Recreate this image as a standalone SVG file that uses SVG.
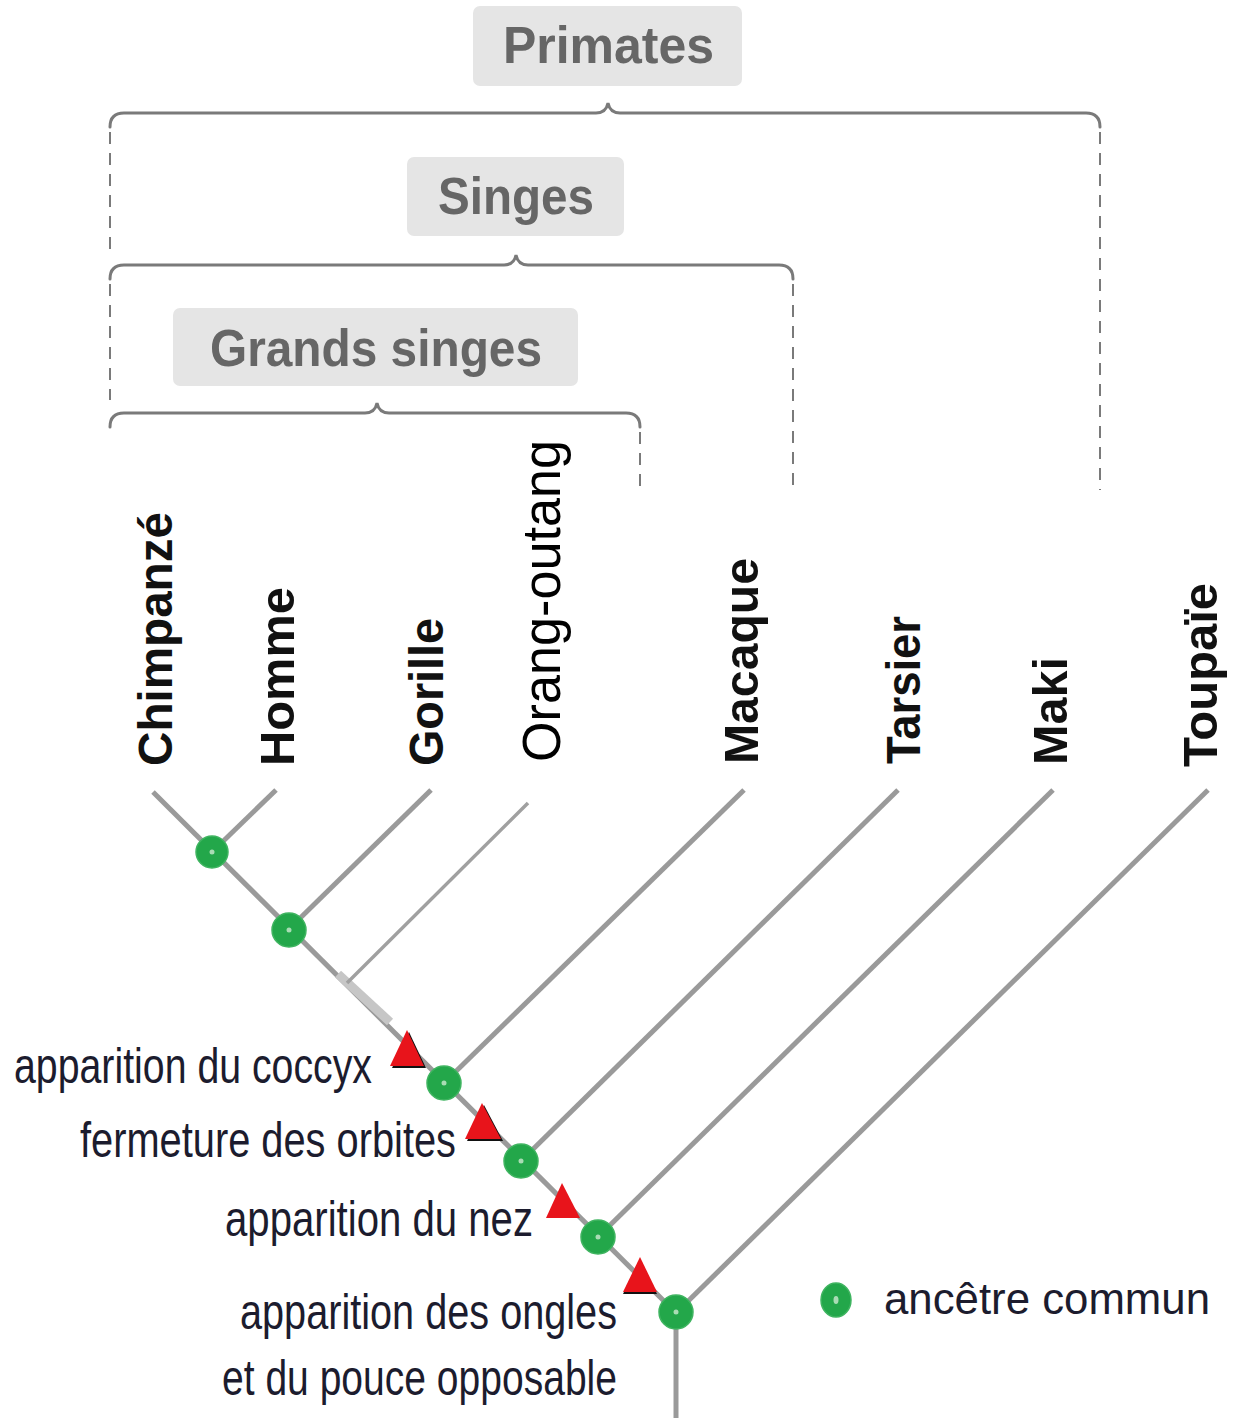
<svg xmlns="http://www.w3.org/2000/svg" width="1236" height="1418" viewBox="0 0 1236 1418">
<style>
.box{fill:#e5e5e5}
.grp{font-family:"Liberation Sans",Arial,sans-serif;font-weight:bold;font-size:52px;fill:#666}
.brace{fill:none;stroke:#7a7a7a;stroke-width:3;stroke-linecap:round}
.dash{fill:none;stroke:#7a7a7a;stroke-width:2;stroke-dasharray:12 9}
.sp{font-family:"Liberation Sans",Arial,sans-serif;font-weight:bold;font-size:48px;fill:#111}
.spr{font-family:"Liberation Sans",Arial,sans-serif;font-size:54px;fill:#000}
.edge{fill:none;stroke:#9a9a9a;stroke-width:5;stroke-linecap:butt}
.thin{fill:none;stroke:#a0a0a0;stroke-width:3.5}
.node{fill:#23a74a;stroke:#3fb460;stroke-width:1.5}
.dot{fill:#a9dcb4}
.tri{fill:#e8141b}
.sh{fill:#111}
.lab{font-family:"Liberation Sans Narrow","Liberation Sans",Arial,sans-serif;font-size:50px;fill:#1c1c2e}
.leg{font-family:"Liberation Sans",Arial,sans-serif;font-size:44px;fill:#1c1c2e}
</style>

<g id="group-primates">
<rect class="box" x="473" y="6" width="269" height="80" rx="7"/>
<text class="grp" x="503" y="63" textLength="211" lengthAdjust="spacingAndGlyphs">Primates</text>
<path class="brace" d="M110,127 Q110,113 124,113 L596,113 Q606,113 608,103 Q610,113 620,113 L1086,113 Q1100,113 1100,127"/>
<path class="dash" d="M110,132 L110,250 M1100,132 L1100,490"/>
</g>

<g id="group-singes">
<rect class="box" x="407" y="157" width="217" height="79" rx="7"/>
<text class="grp" x="438" y="214" textLength="156" lengthAdjust="spacingAndGlyphs">Singes</text>
<path class="brace" d="M110,279 Q110,265 124,265 L504,265 Q514,265 516,255 Q518,265 528,265 L779,265 Q793,265 793,279"/>
<path class="dash" d="M110,284 L110,400 M793,284 L793,490"/>
</g>

<g id="group-grands-singes">
<rect class="box" x="173" y="308" width="405" height="78" rx="7"/>
<text class="grp" x="210" y="366" textLength="332" lengthAdjust="spacingAndGlyphs">Grands singes</text>
<path class="brace" d="M110,427 Q110,413 124,413 L365,413 Q375,413 377,403 Q379,413 389,413 L626,413 Q640,413 640,427"/>
<path class="dash" d="M640,432 L640,490"/>
</g>

<g id="connectors">
<line class="edge" x1="153" y1="792" x2="676" y2="1313"/>
<line class="edge" x1="676" y1="1313" x2="676" y2="1418"/>
<line class="edge" x1="212" y1="852" x2="276" y2="790"/>
<line class="edge" x1="289" y1="929" x2="431" y2="790"/>
<line x1="338" y1="974" x2="390" y2="1022" stroke="#c6c6c6" stroke-width="9"/>
<line class="thin" x1="347" y1="983" x2="528" y2="803"/>
<line class="edge" x1="444" y1="1083" x2="744" y2="790"/>
<line class="edge" x1="521" y1="1161" x2="898" y2="790"/>
<line class="edge" x1="598" y1="1237" x2="1053" y2="790"/>
<line class="edge" x1="676" y1="1313" x2="1208" y2="790"/>
</g>

<g id="species">
<text id="chimpanze" class="sp" transform="translate(172,766) rotate(-90)" textLength="254" lengthAdjust="spacingAndGlyphs">Chimpanzé</text>
<text id="homme" class="sp" transform="translate(294,766) rotate(-90)" textLength="179" lengthAdjust="spacingAndGlyphs">Homme</text>
<text id="gorille" class="sp" transform="translate(443,766) rotate(-90)" textLength="148" lengthAdjust="spacingAndGlyphs">Gorille</text>
<text id="orang-outang" class="spr" transform="translate(560,762) rotate(-90)" textLength="322" lengthAdjust="spacingAndGlyphs">Orang-outang</text>
<text id="macaque" class="sp" transform="translate(758,764) rotate(-90)" textLength="206" lengthAdjust="spacingAndGlyphs">Macaque</text>
<text id="tarsier" class="sp" transform="translate(920,764) rotate(-90)" textLength="148" lengthAdjust="spacingAndGlyphs">Tarsier</text>
<text id="maki" class="sp" transform="translate(1067,765) rotate(-90)" textLength="108" lengthAdjust="spacingAndGlyphs">Maki</text>
<text id="toupaie" class="sp" transform="translate(1217,767) rotate(-90)" textLength="184" lengthAdjust="spacingAndGlyphs">Toupaïe</text>
</g>

<g id="characters">
<g id="char-coccyx">
<polygon class="sh" points="409,1032 426,1068 392,1068"/>
<polygon class="tri" points="407,1030 424,1066 390,1066"/>
<text class="lab" x="14" y="1083" textLength="358" lengthAdjust="spacingAndGlyphs">apparition du coccyx</text>
</g>
<g id="char-orbites">
<polygon class="sh" points="484,1105 503,1141 467,1141"/>
<polygon class="tri" points="482,1103 501,1139 465,1139"/>
<text class="lab" x="80" y="1157" textLength="376" lengthAdjust="spacingAndGlyphs">fermeture des orbites</text>
</g>
<g id="char-nez">
<polygon class="tri" points="562,1183 580,1218 546,1218"/>
<text class="lab" x="225" y="1236" textLength="308" lengthAdjust="spacingAndGlyphs">apparition du nez</text>
</g>
<g id="char-ongles">
<polygon class="sh" points="640,1259 657,1294 623,1294"/>
<polygon class="tri" points="640,1257 657,1292 623,1292"/>
<text class="lab" x="240" y="1329" textLength="377" lengthAdjust="spacingAndGlyphs">apparition des ongles</text>
<text class="lab" x="222" y="1395" textLength="395" lengthAdjust="spacingAndGlyphs">et du pouce opposable</text>
</g>
</g>

<g id="nodes">
<g id="n1"><circle class="node" cx="212" cy="852" r="16"/><circle class="dot" cx="212" cy="852" r="2.5"/></g>
<g id="n2"><circle class="node" cx="289" cy="930" r="17"/><circle class="dot" cx="289" cy="930" r="2.5"/></g>
<g id="n3"><circle class="node" cx="444" cy="1083" r="17"/><circle class="dot" cx="444" cy="1083" r="2.5"/></g>
<g id="n4"><circle class="node" cx="521" cy="1161" r="17"/><circle class="dot" cx="521" cy="1161" r="2.5"/></g>
<g id="n5"><circle class="node" cx="598" cy="1237" r="17"/><circle class="dot" cx="598" cy="1237" r="2.5"/></g>
<g id="n6"><circle class="node" cx="676" cy="1312" r="17"/><circle class="dot" cx="676" cy="1312" r="2.5"/></g>
</g>

<g id="legend">
<ellipse class="node" cx="836" cy="1300" rx="15" ry="17"/>
<ellipse class="dot" cx="836" cy="1300" rx="2.5" ry="4"/>
<text class="leg" x="884" y="1314" textLength="326" lengthAdjust="spacingAndGlyphs">ancêtre commun</text>
</g>
</svg>
